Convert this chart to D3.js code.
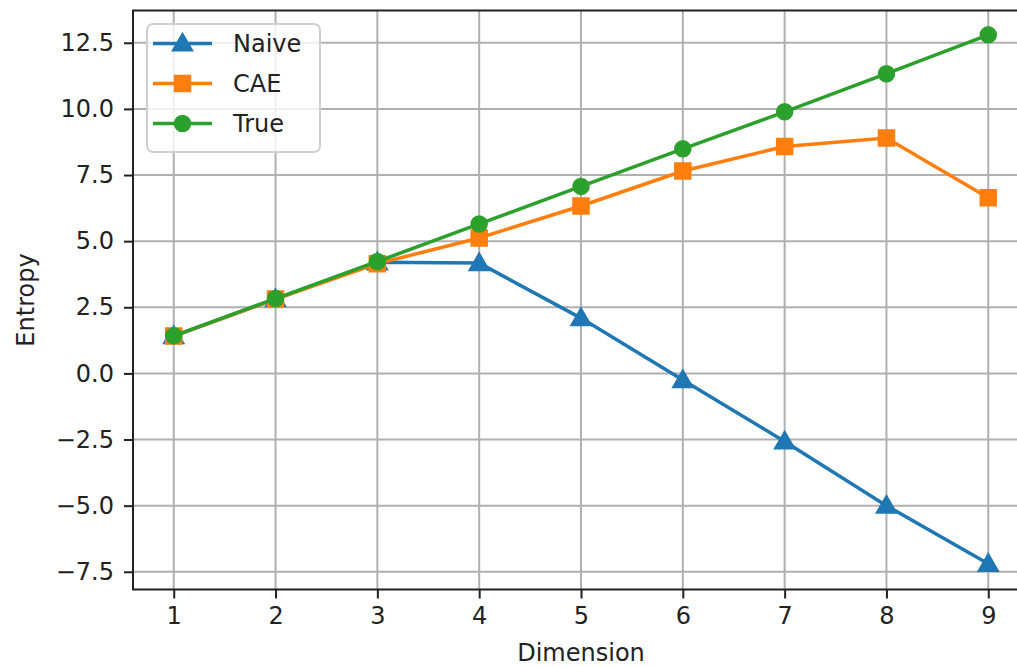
<!DOCTYPE html>
<html>
<head>
<meta charset="utf-8">
<script src="https://cdn.jsdelivr.net/npm/d3@7"></script>
<style>
  body { margin: 0; background: #fff; }
  svg { font-family: "DejaVu Sans", sans-serif; }
</style>
</head>
<body>
<div class="entropyChart"></div>
<script>
// Data
const dimensions = [1, 2, 3, 4, 5, 6, 7, 8, 9];
const naive = [1.41, 2.81, 4.2, 4.17, 2.09, -0.25, -2.57, -5.0, -7.2];
const cae = [1.41, 2.81, 4.15, 5.12, 6.33, 7.65, 8.58, 8.9, 6.64];
const trueVals = [1.42, 2.83, 4.23, 5.65, 7.07, 8.49, 9.89, 11.33, 12.8];
const xTicks = [1, 2, 3, 4, 5, 6, 7, 8, 9];
const yTicks = [-7.5, -5.0, -2.5, 0.0, 2.5, 5.0, 7.5, 10.0, 12.5];

const series = [
  { name: "Naive", values: naive, color: "#1f77b4", marker: "triangle" },
  { name: "CAE", values: cae, color: "#ff7f0e", marker: "square" },
  { name: "True", values: trueVals, color: "#2ca02c", marker: "circle" }
];

// Plot area (right edge is cut off by the picture)
const width = 1017, height = 667;
const plot = { left: 133, right: 1029, top: 10.5, bottom: 589.5 };

const svg = d3.select(".entropyChart")
  .append("svg")
  .attr("width", width)
  .attr("height", height);

const x = d3.scaleLinear().domain([0.6, 9.4]).range([plot.left, plot.right]);
const y = d3.scaleLinear().domain([-8.17, 13.72]).range([plot.bottom, plot.top]);

// Grid lines
svg.append("g")
  .selectAll("line")
  .data(xTicks)
  .enter().append("line")
  .attr("x1", d => x(d)).attr("x2", d => x(d))
  .attr("y1", plot.top).attr("y2", plot.bottom)
  .attr("stroke", "#b0b0b0").attr("stroke-width", 2);
svg.append("g")
  .selectAll("line")
  .data(yTicks)
  .enter().append("line")
  .attr("x1", plot.left).attr("x2", plot.right)
  .attr("y1", d => y(d)).attr("y2", d => y(d))
  .attr("stroke", "#b0b0b0").attr("stroke-width", 2);

// Axes
const fmt = d3.format(".1f");
const xAxis = svg.append("g")
  .attr("transform", `translate(0,${plot.bottom})`)
  .call(d3.axisBottom(x).tickValues(xTicks).tickFormat(d3.format("d")).tickSize(9).tickPadding(8));
const yAxis = svg.append("g")
  .attr("transform", `translate(${plot.left},0)`)
  .call(d3.axisLeft(y).tickValues(yTicks).tickFormat(fmt).tickSize(9).tickPadding(10));
[xAxis, yAxis].forEach(a => {
  a.select(".domain").remove();
  a.selectAll("line").attr("stroke", "#222").attr("stroke-width", 2);
  a.selectAll("text").attr("fill", "#222").style("font-size", "24px").style("font-family", "DejaVu Sans");
});

// Spines
svg.append("rect")
  .attr("x", plot.left).attr("y", plot.top)
  .attr("width", plot.right - plot.left).attr("height", plot.bottom - plot.top)
  .attr("fill", "none").attr("stroke", "#222").attr("stroke-width", 2);

// Axis labels
svg.append("text")
  .attr("text-anchor", "middle")
  .attr("x", (plot.left + plot.right) / 2)
  .attr("y", 661)
  .attr("fill", "#222")
  .style("font-size", "24px")
  .text("Dimension");
svg.append("text")
  .attr("text-anchor", "middle")
  .attr("transform", `translate(34,${(plot.top + plot.bottom) / 2}) rotate(-90)`)
  .attr("fill", "#222")
  .style("font-size", "24px")
  .text("Entropy");

// Marker shapes, sized like matplotlib markersize 6
const symbols = {
  triangle: d3.symbol().type(d3.symbolTriangle).size(150),
  square: d3.symbol().type(d3.symbolSquare).size(225),
  circle: d3.symbol().type(d3.symbolCircle).size(177)
};

const line = d3.line()
  .x((d, i) => x(dimensions[i]))
  .y(d => y(d));

series.forEach(s => {
  const g = svg.append("g");
  g.append("path")
    .datum(s.values)
    .attr("d", line)
    .attr("fill", "none")
    .attr("stroke", s.color)
    .attr("stroke-width", 3.5);
  g.selectAll("path.pt")
    .data(s.values)
    .enter().append("path")
    .attr("class", "pt")
    .attr("d", symbols[s.marker])
    .attr("transform", (d, i) => `translate(${x(dimensions[i])},${y(d) + (s.marker === "triangle" ? 1.5 : 0)})`)
    .attr("fill", s.color)
    .attr("stroke", s.color)
    .attr("stroke-width", 2.5);
});

// Legend
const legend = svg.append("g");
legend.append("rect")
  .attr("x", 147).attr("y", 24)
  .attr("width", 173).attr("height", 128)
  .attr("rx", 6)
  .attr("fill", "#fff").attr("fill-opacity", 0.8)
  .attr("stroke", "#d0d0d0").attr("stroke-width", 2);
series.forEach((s, i) => {
  const cy = 43.5 + i * 40;
  legend.append("line")
    .attr("x1", 153).attr("x2", 212)
    .attr("y1", cy).attr("y2", cy)
    .attr("stroke", s.color).attr("stroke-width", 3.5);
  legend.append("path")
    .attr("d", symbols[s.marker])
    .attr("transform", `translate(182.5,${cy + (s.marker === "triangle" ? 1.5 : 0)})`)
    .attr("fill", s.color).attr("stroke", s.color).attr("stroke-width", 2.5);
  legend.append("text")
    .attr("x", 233).attr("y", cy + 8.5)
    .attr("fill", "#222")
    .style("font-size", "24px")
    .text(s.name);
});
</script>
</body>
</html>
